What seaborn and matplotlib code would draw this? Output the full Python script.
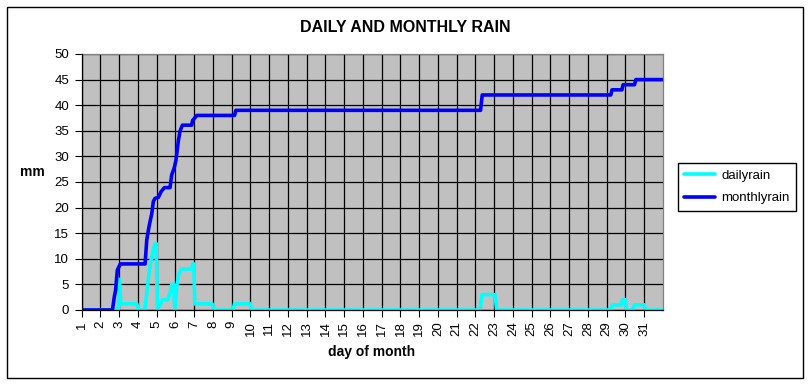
import matplotlib
matplotlib.use("Agg")
import matplotlib.pyplot as plt
import numpy as np
import pandas as pd
import seaborn as sns
from matplotlib.patches import Rectangle

# ---- data (day of month as fractional day, mm) ----
daily_day = [1.00, 2.95, 3.01, 3.08, 3.94, 4.02, 4.36, 4.47, 4.59, 4.70, 4.82, 4.91,
             4.97, 5.04, 5.18, 5.30, 5.59, 5.71, 5.80, 5.90, 5.96, 6.07, 6.16, 6.32,
             6.87, 6.92, 6.98, 7.03, 7.96, 8.04, 9.06, 9.15, 9.99, 10.06, 22.24, 22.34,
             23.04, 23.13, 29.22, 29.30, 29.76, 29.85, 29.99, 30.06, 30.40, 30.47,
             31.00, 31.08, 32.00]
daily_mm = [0.0, 0.0, 6.0, 1.2, 1.2, 0.0, 0.0, 3.3, 7.2, 9.8, 11.7, 13.0,
            13.0, 0.0, 1.0, 2.0, 2.0, 3.3, 5.0, 5.0, 0.0, 4.6, 6.8, 8.0,
            8.0, 9.0, 9.0, 1.2, 1.2, 0.0, 0.0, 1.2, 1.2, 0.0, 0.0, 3.0,
            3.0, 0.0, 0.0, 1.0, 1.0, 2.0, 2.0, 0.0, 0.0, 1.0,
            1.0, 0.0, 0.0]

monthly_day = [1.00, 2.64, 2.74, 2.81, 2.90, 3.06, 4.38, 4.47, 4.59, 4.74, 4.82, 4.91,
               5.09, 5.23, 5.41, 5.71, 5.80, 5.93, 6.03, 6.16, 6.25, 6.37, 6.87, 6.91,
               7.14, 9.15, 9.22, 22.27, 22.36, 29.22, 29.28, 29.81, 29.87, 30.48, 30.55,
               32.00]
monthly_mm = [0.0, 0.0, 2.6, 3.9, 7.8, 9.0, 9.0, 13.7, 16.3, 18.9, 21.2, 21.8,
              22.0, 23.1, 23.9, 23.9, 26.4, 27.7, 29.3, 33.2, 35.0, 36.1, 36.1, 37.0,
              38.0, 38.0, 39.0, 39.0, 42.0, 42.0, 43.0, 43.0, 44.0, 44.0, 45.0,
              45.0]

day_ticks = list(range(1, 32))
y_ticks = list(range(0, 51, 5))
series_names = ["dailyrain", "monthlyrain"]
series_colors = ["#00FFFF", "#0000FF"]

df = pd.concat([
    pd.DataFrame({"day": daily_day, "mm": daily_mm, "series": series_names[0]}),
    pd.DataFrame({"day": monthly_day, "mm": monthly_mm, "series": series_names[1]}),
], ignore_index=True)

sns.set_theme(style="white")
plt.rcParams['font.family'] = ['Liberation Sans', 'DejaVu Sans']

W, H = 809, 384
fig = plt.figure(figsize=(W / 100, H / 100), dpi=100)
fig.patch.set_facecolor("white")

# outer chart border
fig.patches.append(Rectangle((7 / W, 1 - 378 / H), (803 - 7) / W, (378 - 7) / H,
                             transform=fig.transFigure, fill=False,
                             edgecolor="black", linewidth=1.0))

ax = fig.add_axes([81.7 / W, 1 - 310 / H, (663 - 81.7) / W, (310 - 54) / H])
ax.set_facecolor("#C0C0C0")

sns.lineplot(data=df, x="day", y="mm", hue="series", hue_order=series_names,
             palette=dict(zip(series_names, series_colors)), estimator=None,
             sort=False, linewidth=2.6, ax=ax)

ax.set_xlim(1, 32)
ax.set_ylim(0, 50)
ax.set_xticks(day_ticks)
ax.set_xticklabels([str(d) for d in day_ticks], rotation=90)
ax.set_yticks(y_ticks)
ax.set_yticklabels([str(v) for v in y_ticks])
ax.tick_params(axis="both", direction="out", length=5, width=0.8, color="black",
               labelsize=9.5, labelcolor="black", bottom=True, left=True)
ax.tick_params(axis="y", pad=4)
ax.tick_params(axis="x", pad=3)

ax.grid(True, color="black", linewidth=0.9)
ax.set_axisbelow(True)

for side in ["top", "right"]:
    ax.spines[side].set_color("#808080")
    ax.spines[side].set_linewidth(0.9)
for side in ["left", "bottom"]:
    ax.spines[side].set_color("black")
    ax.spines[side].set_linewidth(0.9)
    ax.spines[side].set_zorder(3)

ax.set_xlabel("")
ax.set_ylabel("")

handles, labels = ax.get_legend_handles_labels()
if ax.get_legend() is not None:
    ax.get_legend().remove()
leg = fig.legend(handles, labels, loc="center", bbox_to_anchor=(737 / W, 1 - 187 / H),
                 frameon=True, fancybox=False, edgecolor="black", facecolor="white",
                 fontsize=9.5, handlelength=2.35, handletextpad=0.45,
                 labelspacing=0.75, borderpad=0.5, framealpha=1)
leg.get_frame().set_linewidth(1.0)
for t in leg.get_texts():
    t.set_color("black")

fig.text(405.5 / W, 1 - 27 / H, "DAILY AND MONTHLY RAIN", ha="center", va="center",
         fontsize=11.5, fontweight="bold", color="black")
fig.text(372 / W, 1 - 352 / H, "day of month", ha="center", va="center",
         fontsize=10, fontweight="bold", color="black")
fig.text(32 / W, 1 - 172 / H, "mm", ha="center", va="center",
         fontsize=10, fontweight="bold", color="black")

fig.savefig("out.png", dpi=100)
